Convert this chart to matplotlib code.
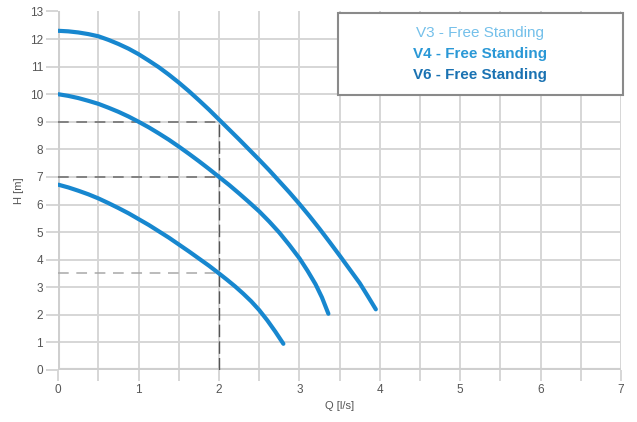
import matplotlib
matplotlib.use("Agg")
import matplotlib.pyplot as plt
from matplotlib.patches import Rectangle

plt.rcParams['font.family'] = ['Liberation Sans', 'DejaVu Sans']

# ---- data ----
q_v6 = [0, 0.125, 0.25, 0.375, 0.5, 0.625, 0.75, 0.875, 1.0, 1.125, 1.25, 1.375, 1.5, 1.625, 1.75, 1.875,
        2.0, 2.125, 2.25, 2.375, 2.5, 2.625, 2.75, 2.875, 3.0, 3.125, 3.25, 3.375, 3.5, 3.625, 3.75, 3.85, 3.95]
h_v6 = [12.30, 12.28, 12.24, 12.18, 12.10, 11.97, 11.82, 11.65, 11.45, 11.22, 10.98, 10.71, 10.42, 10.11, 9.78, 9.44,
        9.08, 8.72, 8.36, 7.99, 7.62, 7.24, 6.84, 6.44, 6.02, 5.58, 5.12, 4.64, 4.15, 3.65, 3.15, 2.68, 2.2]

q_v4 = [0, 0.125, 0.25, 0.375, 0.5, 0.625, 0.75, 0.875, 1.0, 1.125, 1.25, 1.375, 1.5, 1.625, 1.75, 1.875,
        2.0, 2.125, 2.25, 2.375, 2.5, 2.625, 2.75, 2.875, 3.0, 3.1, 3.2, 3.28, 3.36]
h_v4 = [10.0, 9.94, 9.86, 9.76, 9.65, 9.51, 9.36, 9.19, 9.0, 8.80, 8.58, 8.35, 8.10, 7.84, 7.57, 7.29,
        7.0, 6.71, 6.40, 6.08, 5.75, 5.38, 4.98, 4.53, 4.05, 3.60, 3.11, 2.63, 2.04]

q_v3 = [0, 0.125, 0.25, 0.375, 0.5, 0.625, 0.75, 0.875, 1.0, 1.125, 1.25, 1.375, 1.5, 1.625, 1.75, 1.875,
        2.0, 2.1, 2.2, 2.3, 2.4, 2.5, 2.6, 2.7, 2.8]
h_v3 = [6.72, 6.62, 6.50, 6.37, 6.22, 6.05, 5.87, 5.68, 5.47, 5.26, 5.03, 4.80, 4.55, 4.30, 4.04, 3.78,
        3.5, 3.27, 3.03, 2.77, 2.49, 2.17, 1.8, 1.39, 0.95]

ref_q = 2
ref_h = [9, 7, 3.5]

legend_labels = ["V3 - Free Standing", "V4 - Free Standing", "V6 - Free Standing"]
x_ticks = [0, 1, 2, 3, 4, 5, 6, 7]
y_ticks = list(range(0, 14))

# ---- figure ----
W, H = 637, 422
fig = plt.figure(figsize=(W / 100, H / 100), dpi=100)
x0px, x7px = 58.3, 621.0
y0px, y13px = 370.0, 11.5
ax = fig.add_axes([x0px / W, 1 - y0px / H, (x7px - x0px) / W, (y0px - y13px) / H])
ax.set_xlim(0, 7)
ax.set_ylim(0, 13)

grid_c = '#d6d6d6'
for s in ax.spines.values():
    s.set_visible(False)

# grid
for xv in [i * 0.5 for i in range(1, 15)]:
    ax.axvline(xv, color=grid_c, lw=1.4, zorder=1)
for yv in range(1, 13):
    ax.axhline(yv, color=grid_c, lw=1.4, zorder=1)
ax.axvline(0, color='#cfcfcf', lw=2.2, zorder=1)
ax.axhline(0, color='#cfcfcf', lw=3.0, zorder=1)

ax.set_xticks(x_ticks)
ax.set_xticks([i * 0.5 for i in range(15)], minor=True)
ax.set_yticks(y_ticks)
ax.tick_params(axis='x', which='both', direction='out', length=8, width=1.4, color=grid_c,
               labelsize=8.5, labelcolor='#555555', pad=2)
ax.tick_params(axis='y', which='major', direction='out', length=9, width=1.4, color=grid_c,
               labelsize=8.5, labelcolor='#555555', pad=2)

# reference dashed lines
dash_c = '#6a6a6a'
ax.plot([0, ref_q], [ref_h[0], ref_h[0]], color=dash_c, lw=1.1, dashes=(7, 5), zorder=2)
ax.plot([0, ref_q], [ref_h[1], ref_h[1]], color=dash_c, lw=1.1, dashes=(7, 5), zorder=2)
ax.plot([0, ref_q], [ref_h[2], ref_h[2]], color='#a8a8a8', lw=1.1, dashes=(7, 5), zorder=2)
ax.plot([ref_q, ref_q], [0, ref_h[0]], color='#555555', lw=1.0, dashes=(9, 3), zorder=2)

# curves
curve_c = '#1787cf'
for q, h in [(q_v6, h_v6), (q_v4, h_v4), (q_v3, h_v3)]:
    ax.plot(q, h, color=curve_c, lw=3.0, solid_capstyle='round', solid_joinstyle='round', zorder=3)

ax.set_xlabel('Q [l/s]', fontsize=8, color='#555555', labelpad=4)
ax.set_ylabel('H [m]', fontsize=8, color='#555555', labelpad=4)

# legend box
fig.patches.append(Rectangle((338.3 / W, 1 - 95 / H), (623.3 - 338.3) / W, (95 - 13.3) / H,
                             transform=fig.transFigure, facecolor='white', edgecolor='#8a8a8a',
                             lw=1.5, zorder=5))
leg_colors = ['#74c0ea', '#2a98d6', '#1a72b2']
leg_weights = ['normal', 'bold', 'bold']
for i, (lab, c, w) in enumerate(zip(legend_labels, leg_colors, leg_weights)):
    fig.text(480 / W, 1 - (33 + 21 * i) / H, lab, color=c, fontsize=11, fontweight=w,
             ha='center', va='center', zorder=6)

fig.savefig('out.png', dpi=100)
